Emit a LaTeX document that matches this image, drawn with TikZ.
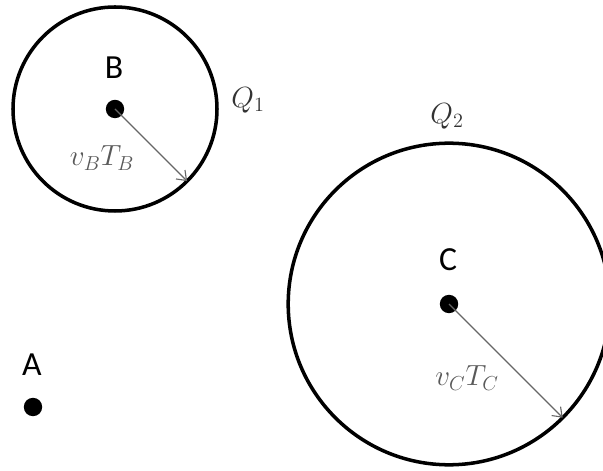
\documentclass[tikz,border=0pt]{standalone}
\usepackage{fontspec}
\newfontfamily\sitefont{Carlito}
\usetikzlibrary{positioning,arrows.meta}
\tikzset{
  zone/.style={circle, draw, line width=2.5pt, inner sep=0pt, outer sep=0pt},
  site/.style={circle, fill, inner sep=0pt, minimum size=0.46cm},
  sitelabel/.style={font=\sitefont\fontsize{24}{28}\selectfont},
  zonelabel/.style={text=black!80, font=\fontsize{21}{25}\selectfont},
  reachlabel/.style={text=black!65, font=\fontsize{21}{25}\selectfont},
  reach/.style={-{Straight Barb[length=6pt,width=9pt]}, black!60, line width=0.8pt},
}
\begin{document}
\begin{tikzpicture}
\useasboundingbox (0,0) rectangle (15.075,11.75);
% region around B
\node[zone, minimum size=5.1cm] (Q1) at (2.875,9.025) {};
\node[site] (dB) at (2.875,9.025) {};
\node[sitelabel] (lB) at (2.85,10.05) {B};
\node[zonelabel] (lQ1) at (6.2,9.25) {$Q_1$};
\draw[reach] (dB.center) -- (Q1.-45);
\node[reachlabel] (rB) at (2.55,7.8) {$v_BT_B$};
% region around C
\node[zone, minimum size=8.04cm] (Q2) at (11.225,4.15) {};
\node[site] (dC) at (11.225,4.15) {};
\node[sitelabel] (lC) at (11.2,5.25) {C};
\node[zonelabel] (lQ2) at (11.175,8.85) {$Q_2$};
\draw[reach] (dC.center) -- (Q2.-45);
\node[reachlabel] (rC) at (11.675,2.3) {$v_CT_C$};
% point A
\node[site] (dA) at (0.825,1.575) {};
\node[sitelabel] (lA) at (0.8,2.625) {A};
\end{tikzpicture}
\end{document}
